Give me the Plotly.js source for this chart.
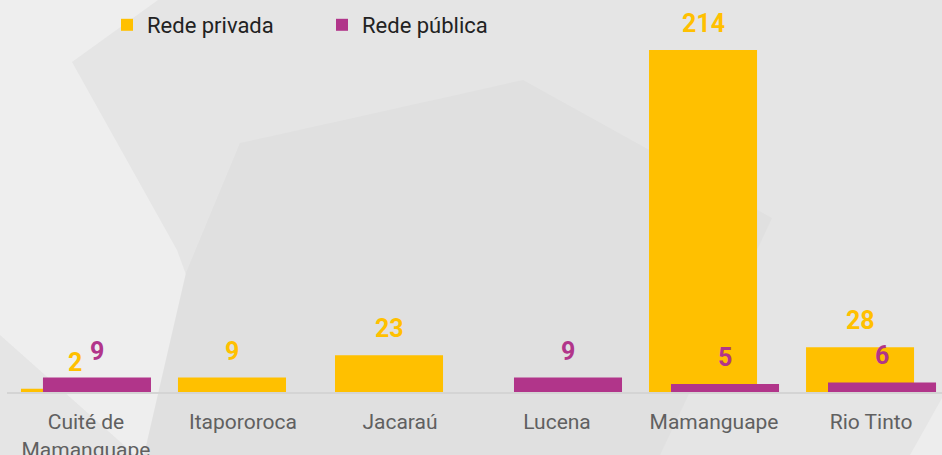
<!DOCTYPE html>
<html>
<head>
<meta charset="utf-8">
<script src="https://cdn.plot.ly/plotly-3.0.1.min.js"></script>
<style>
  html, body { margin: 0; padding: 0; background: #e5e5e5; }
  #chart { width: 942px; height: 455px; }
</style>
</head>
<body>
<div id="chart"></div>
<script>
// ---- data ----
const categories = ["Cuité de<br>Mamanguape", "Itapororoca", "Jacaraú", "Lucena", "Mamanguape", "Rio Tinto"];
const redePrivada = [2, 9, 23, 0, 214, 28];
const redePublica = [9, 0, 0, 9, 5, 6];
const seriesNames = ["Rede privada", "Rede pública"];

// ---- style ----
const YELLOW = "#FFC000";
const PURPLE = "#B1358A";
const W = 942, H = 455;
const M = { l: 7, r: 0, t: 0, b: 63, autoexpand: false };
const BAR_W = 0.688;
const SHIFT = 0.07;

const traces = [
  {
    type: "bar", name: seriesNames[0], x: categories, y: redePrivada,
    marker: { color: YELLOW, line: { width: 0 } },
    width: BAR_W, offset: -SHIFT - BAR_W / 2, hoverinfo: "x+y"
  },
  {
    type: "bar", name: seriesNames[1], x: categories, y: redePublica,
    marker: { color: PURPLE, line: { width: 0 } },
    width: BAR_W, offset: SHIFT - BAR_W / 2, hoverinfo: "x+y"
  }
];

// value labels (non-zero only)
const annotations = [];
[[redePrivada, -SHIFT, YELLOW], [redePublica, SHIFT, PURPLE]].forEach(([vals, sh, col]) => {
  vals.forEach((v, i) => {
    if (v > 0) annotations.push({
      x: i + sh, y: v, xref: "x", yref: "y", text: String(v),
      showarrow: false, yanchor: "bottom", yshift: 10,
      font: { family: "Roboto", size: 25, color: col, weight: 700 }
    });
  });
});

// background decoration polygons (pixel coords -> paper coords)
const plotW = W - M.l - M.r, plotH = H - M.t - M.b;
function poly(pts, color) {
  const d = pts.map((p, k) => (k ? "L" : "M") + ((p[0] - M.l) / plotW).toFixed(4) + "," + ((H - M.b - p[1]) / plotH).toFixed(4)).join(" ") + " Z";
  return { type: "path", xref: "paper", yref: "paper", path: d, fillcolor: color, line: { width: 0 }, layer: "below" };
}
const shapes = [
  poly([[0, 0], [158, 0], [72, 62], [177, 250], [252, 455], [135, 455], [0, 335]], "#EEEEEE"),
  poly([[240, 143], [523, 80], [772, 218], [660, 455], [144, 455], [186, 273]], "#E0E0E0"),
  poly([[942, 398], [942, 455], [910, 455]], "#EDEDED")
];

const layout = {
  width: W, height: H,
  margin: M,
  paper_bgcolor: "#E5E5E5",
  plot_bgcolor: "rgba(0,0,0,0)",
  barmode: "overlay",
  font: { family: "Roboto", color: "#606060" },
  showlegend: true,
  legend: {
    orientation: "h", xref: "container", yref: "container",
    x: 107 / W, xanchor: "left", y: 1 - 25 / H, yanchor: "middle",
    font: { family: "Roboto", size: 22, color: "#222222" },
    entrywidth: 170, bgcolor: "rgba(0,0,0,0)", traceorder: "normal"
  },
  xaxis: {
    type: "category", range: [-0.503, 5.452],
    showgrid: false, zeroline: false, showline: true, linecolor: "#D4D4D4", linewidth: 2,
    ticks: "", ticklabelstandoff: 10,
    tickfont: { family: "Roboto", size: 21, color: "#606060" },
    fixedrange: true, automargin: false
  },
  yaxis: {
    range: [0, 245.3], visible: false, showgrid: false, zeroline: false, fixedrange: true
  },
  annotations: annotations,
  shapes: shapes
};

Plotly.newPlot("chart", traces, layout, { displayModeBar: false, staticPlot: true });
</script>
</body>
</html>
